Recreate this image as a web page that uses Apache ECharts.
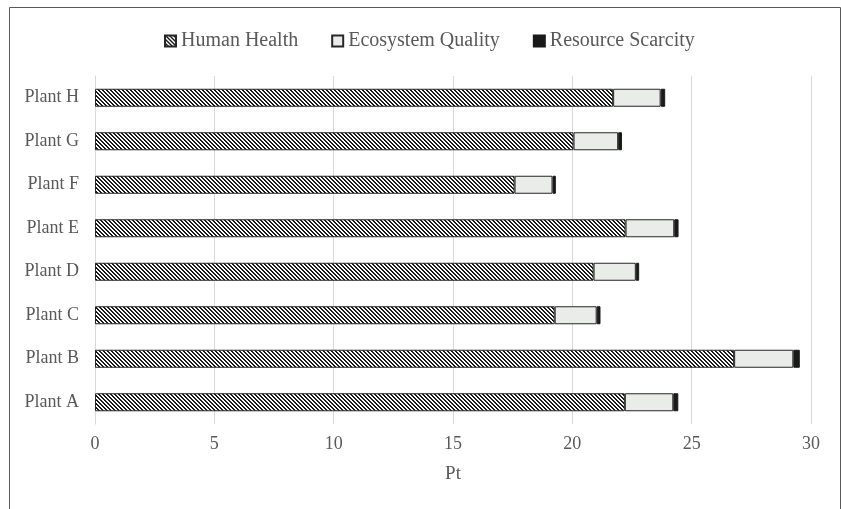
<!DOCTYPE html>
<html>
<head>
<meta charset="utf-8">
<script src="https://cdn.jsdelivr.net/npm/echarts@6/dist/echarts.min.js"></script>
<style>
  html, body { margin: 0; padding: 0; background: #fff; }
  #chart { width: 841px; height: 509px; }
</style>
</head>
<body>
<div id="chart"></div>
<script>
// Damage categories per plant (Pt), stacked
const plants = ['Plant A', 'Plant B', 'Plant C', 'Plant D', 'Plant E', 'Plant F', 'Plant G', 'Plant H'];
const humanHealth = [22.20, 26.78, 19.26, 20.89, 22.23, 17.58, 20.05, 21.71];
const ecosystemQuality = [2.03, 2.48, 1.76, 1.77, 2.04, 1.59, 1.87, 1.99];
const resourceScarcity = [0.21, 0.27, 0.16, 0.14, 0.18, 0.14, 0.16, 0.19];
const xTicks = [0, 5, 10, 15, 20, 25, 30];

// Diagonal hatch tile for the Human Health segments
function hatchTile() {
  const c = document.createElement('canvas');
  c.width = 8; c.height = 8;
  const g = c.getContext('2d');
  g.fillStyle = '#ffffff';
  g.fillRect(0, 0, 8, 8);
  g.fillStyle = '#1a1a1a';
  for (let y = 0; y < 8; y++) {
    for (let x = 0; x < 8; x++) {
      if ((((x - y) % 4) + 4) % 4 < 2) g.fillRect(x, y, 1, 1);
    }
  }
  return c;
}

const font = '"Liberation Serif", "Times New Roman", serif';
const textColor = '#595959';
const chart = echarts.init(document.getElementById('chart'));

const barBase = {
  type: 'bar',
  stack: 'total',
  barWidth: 18,
  animation: false
};

chart.setOption({
  backgroundColor: '#ffffff',
  textStyle: { fontFamily: font },
  graphic: [{
    type: 'rect',
    silent: true,
    shape: { x: 9.5, y: 7.5, width: 831, height: 520 },
    style: { fill: 'none', stroke: '#595959', lineWidth: 1 }
  }],
  legend: {
    top: 26,
    left: 159,
    icon: 'rect',
    itemWidth: 11,
    itemHeight: 11,
    itemGap: 33,
    textStyle: { fontFamily: font, fontSize: 20, color: textColor },
    data: ['Human Health', 'Ecosystem Quality', 'Resource Scarcity']
  },
  grid: { left: 95, right: 30, top: 76, bottom: 85, containLabel: false },
  xAxis: {
    type: 'value',
    min: xTicks[0],
    max: xTicks[xTicks.length - 1],
    interval: 5,
    name: 'Pt',
    nameLocation: 'middle',
    nameGap: 41,
    nameTextStyle: { fontFamily: font, fontSize: 19, color: textColor },
    axisLine: { show: false },
    axisTick: { show: false },
    axisLabel: { margin: 11, fontFamily: font, fontSize: 18, color: textColor },
    splitLine: { lineStyle: { color: '#d9d9d9', width: 1 } }
  },
  yAxis: {
    type: 'category',
    data: plants,
    axisLine: { lineStyle: { color: '#d9d9d9', width: 1 } },
    axisTick: { show: false },
    axisLabel: { margin: 16, fontFamily: font, fontSize: 18, color: textColor }
  },
  series: [
    Object.assign({}, barBase, {
      name: 'Human Health',
      data: humanHealth,
      itemStyle: { color: { image: hatchTile(), repeat: 'repeat' }, borderColor: '#262626', borderWidth: 1 }
    }),
    Object.assign({}, barBase, {
      name: 'Ecosystem Quality',
      data: ecosystemQuality,
      itemStyle: { color: '#eaecea', borderColor: '#262626', borderWidth: 1 }
    }),
    Object.assign({}, barBase, {
      name: 'Resource Scarcity',
      data: resourceScarcity,
      itemStyle: { color: '#1a1a1a', borderColor: '#1a1a1a', borderWidth: 1 }
    })
  ]
});
</script>
</body>
</html>
